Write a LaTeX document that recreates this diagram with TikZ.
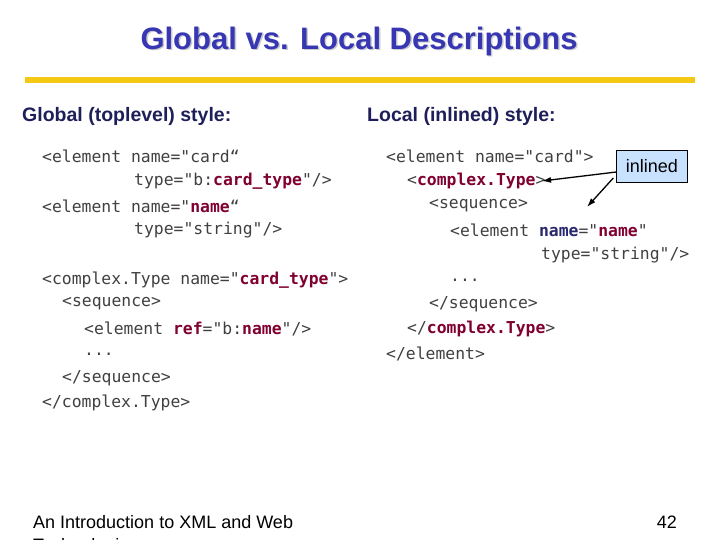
\documentclass[tikz,border=0pt]{standalone}
\usepackage{fontspec}
\usetikzlibrary{arrows.meta}
\setmainfont{Liberation Sans}
\newfontfamily\codefont{DejaVu Sans Mono}
\definecolor{titleblue}{RGB}{55,55,180}
\definecolor{headnavy}{RGB}{30,30,90}
\definecolor{bargold}{RGB}{245,200,20}
\definecolor{kwred}{RGB}{128,0,48}
\definecolor{kwblue}{RGB}{40,40,110}
\definecolor{boxblue}{RGB}{200,225,255}
\newcommand{\kwr}[1]{\textcolor{kwred}{\bfseries #1}}
\newcommand{\kwb}[1]{\textcolor{kwblue}{\bfseries #1}}
\tikzset{
  codeline/.style={anchor=west,inner sep=0pt,font=\codefont\fontsize{16.4}{16}\selectfont,text=black!75},
  heading/.style={anchor=west,inner sep=0pt,font=\bfseries\fontsize{19.5}{19}\selectfont,text=headnavy}
}
\begin{document}
\begin{tikzpicture}[x=1pt,y=-1pt]
				\clip (0,0) rectangle (720,540);
				\useasboundingbox (0,0) rectangle (720,540);
				%title
				\node[font=\bfseries\fontsize{31}{31}\selectfont,text=black!20] at (360.5,42.5) {Global vs. Local Descriptions};
				\node (title) [font=\bfseries\fontsize{31}{31}\selectfont,text=titleblue] at (359,41) {Global vs. Local Descriptions};
				\fill[bargold] (25,77) rectangle (695,83);
				%headings
				\node (hglob) [heading] at (22,116) {Global (toplevel) style:};
				\node (hloc) [heading] at (367,116) {Local (inlined) style:};
				%global code
				\node (g1) [codeline] at (42,156) {<element name="card“};
				\node (g2) [codeline] at (134,181) {type="b:\kwr{card\_type}"/>};
				\node (g3) [codeline] at (42,206) {<element name="\kwr{name}“};
				\node (g4) [codeline] at (134,230) {type="string"/>};
				\node (g5) [codeline] at (42,280) {<complex.Type name="\kwr{card\_type}">};
				\node (g6) [codeline] at (62,304) {<sequence>};
				\node (g7) [codeline] at (84,329) {<element \kwr{ref}="b:\kwr{name}"/>};
				\node (g8) [codeline] at (84,354) {...};
				\node (g9) [codeline] at (62,378) {</sequence>};
				\node (g10) [codeline] at (42,403) {</complex.Type>};
				%local code
				\node (l1) [codeline] at (386,156) {<element name="card">};
				\node (l2) [codeline] at (407,181) {<\kwr{complex.Type}>};
				\node (l3) [codeline] at (429,206) {<sequence>};
				\node (l4) [codeline] at (450,230) {<element \kwb{name}="\kwr{name}"};
				\node (l5) [codeline] at (541,255) {type="string"/>};
				\node (l6) [codeline] at (450,280) {...};
				\node (l7) [codeline] at (429,304) {</sequence>};
				\node (l8) [codeline] at (407,329) {</\kwr{complex.Type}>};
				\node (l9) [codeline] at (386,354) {</element>};
				%inlined marker
				\node (inl) [draw,fill=boxblue,font=\fontsize{18}{18}\selectfont,minimum width=71pt,minimum height=32pt] at (652,166) {inlined};
				\coordinate (tipa) at (542,181);
				\coordinate (tipb) at (587,207);
				\draw[-{Latex[length=9pt,width=6pt]},line width=1.3pt] (inl.west) ++(0,6) -- (tipa);
				\draw[-{Latex[length=9pt,width=6pt]},line width=1.3pt] (inl.west) ++(-3,12) -- (tipb);
				%footer
				\node (foot) [anchor=west,inner sep=0pt,font=\fontsize{18}{19}\selectfont] at (33,522) {An Introduction to XML and Web};
				\node (foot2) [anchor=west,inner sep=0pt,font=\fontsize{18}{19}\selectfont] at (33,547) {Technologies};
				\node (page) [anchor=east,inner sep=0pt,font=\fontsize{18}{18}\selectfont] at (677,522) {42};
			\end{tikzpicture}
\end{document}
